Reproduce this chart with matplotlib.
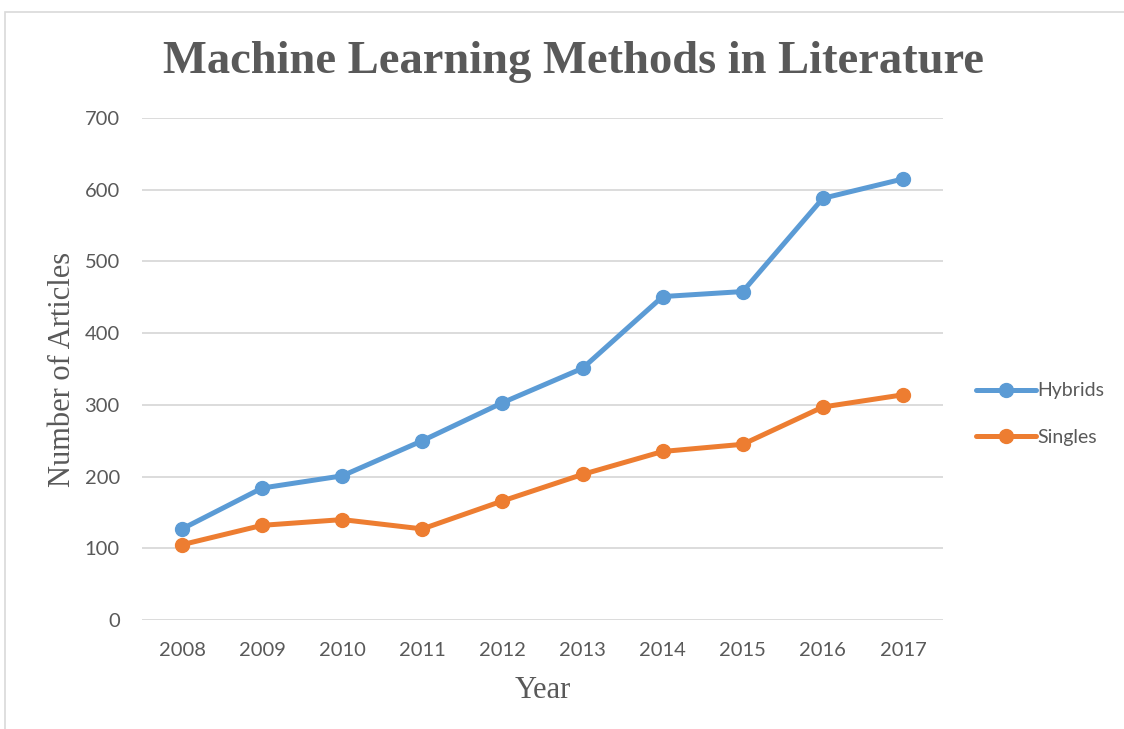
import matplotlib
matplotlib.use("Agg")
import matplotlib.pyplot as plt
from matplotlib.patches import Rectangle

years = ["2008", "2009", "2010", "2011", "2012", "2013", "2014", "2015", "2016", "2017"]
hybrids = [127, 184, 201, 250, 303, 351, 451, 458, 588, 615]
singles = [105, 132, 140, 127, 166, 203, 235, 245, 297, 314]
yticks = [0, 100, 200, 300, 400, 500, 600, 700]

blue = "#5B9BD5"
orange = "#ED7D31"
gray = "#595959"

fig = plt.figure(figsize=(11.24, 7.29), dpi=100)
fig.patch.set_facecolor("white")
fig.patches.append(Rectangle((5/1124, -0.05), 1.2, 1 - 12/729 + 0.05, transform=fig.transFigure,
                             fill=False, edgecolor="#d9d9d9", linewidth=1.2, zorder=0))

ax = fig.add_axes([142/1124, 1 - 620/729, (943 - 142)/1124, (620 - 118)/729])
x = list(range(len(years)))
ax.plot(x, hybrids, color=blue, linewidth=3.6, marker="o", markersize=10, label="Hybrids", zorder=3,
        solid_capstyle="round")
ax.plot(x, singles, color=orange, linewidth=3.6, marker="o", markersize=10, label="Singles", zorder=3,
        solid_capstyle="round")

ax.set_xlim(-0.5, len(years) - 0.5)
ax.set_ylim(0, 700)
ax.set_yticks(yticks)
ax.set_xticks(x)
ax.set_xticklabels(years)
ax.grid(axis="y", color="#d9d9d9", linewidth=1.3)
ax.set_axisbelow(True)
for s in ax.spines.values():
    s.set_visible(False)
ax.tick_params(length=0, labelsize=14.5, labelcolor=gray)
for lab in ax.get_xticklabels() + ax.get_yticklabels():
    lab.set_fontfamily("Lato")
ax.tick_params(axis="x", pad=16)
ax.tick_params(axis="y", pad=16)

ax.set_xlabel("Year", fontfamily="Liberation Serif", fontsize=22, color=gray)
ax.xaxis.set_label_coords(0.5, -(690 - 620) / (620 - 118), transform=ax.transAxes)
ax.xaxis.label.set_va("center")
ax.set_ylabel("Number of Articles", fontfamily="Liberation Serif", fontsize=22, color=gray)
ax.yaxis.set_label_coords(-(142 - 62) / (943 - 142), 0.5, transform=ax.transAxes)
ax.yaxis.label.set_va("center")

fig.text(573/1124, 1 - 62/729, "Machine Learning Methods in Literature", ha="center", va="center",
         fontfamily="Liberation Serif", fontweight="bold", fontsize=33.5, color=gray)

leg = fig.legend(loc="center left", bbox_to_anchor=(958/1124, 1 - 414/729), frameon=False,
                 prop={"family": "Lato", "size": 14}, labelcolor=gray, handlelength=3.1,
                 handletextpad=0.1, labelspacing=1.5)

fig.savefig("out.png", dpi=100)
